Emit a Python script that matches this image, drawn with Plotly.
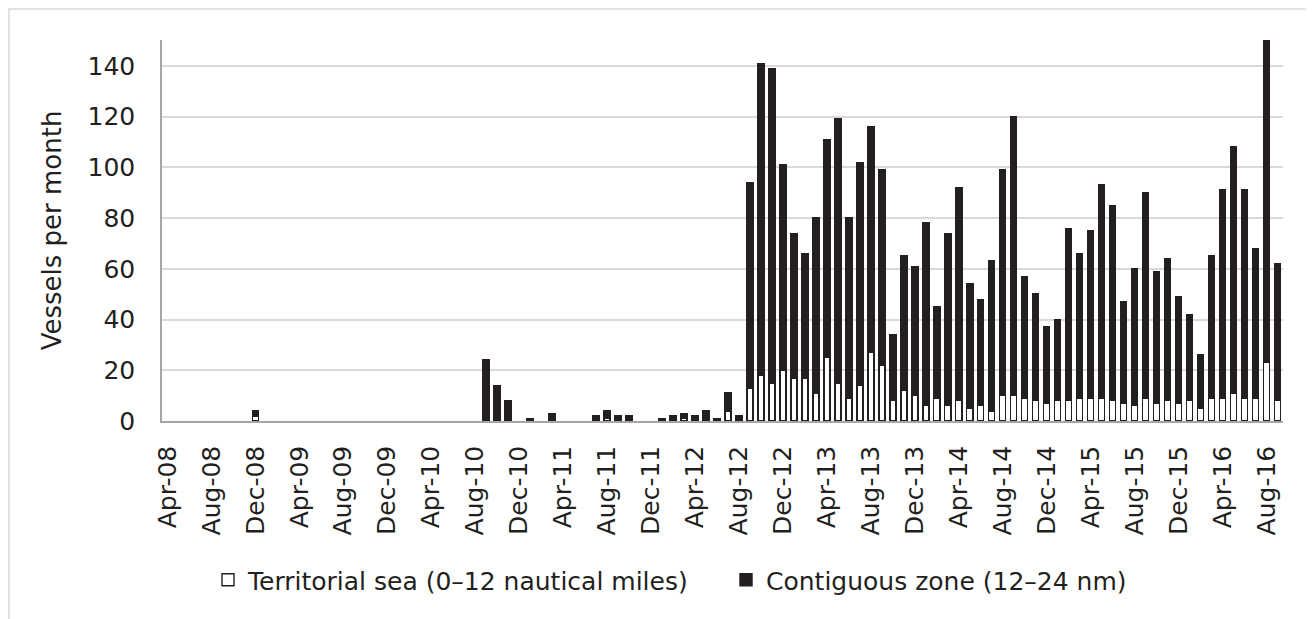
import plotly.graph_objects as go
import pandas as pd

# Monthly categories Apr-08 .. Sep-16
months = [d.strftime("%b-%y") for d in pd.date_range("2008-04-01", "2016-09-01", freq="MS")]

# Vessels per month, territorial sea (0-12 nm)
territorial = [
    0, 0, 0, 0, 0, 0, 0, 0, 2, 0,      # Apr-08 .. Jan-09
    0, 0, 0, 0, 0, 0, 0, 0, 0, 0,      # Feb-09 .. Nov-09
    0, 0, 0, 0, 0, 0, 0, 0, 0, 0,      # Dec-09 .. Sep-10
    0, 0, 0, 0, 0, 0, 0, 0, 0, 0,      # Oct-10 .. Jul-11
    1, 0, 0, 0, 0, 0, 0, 1, 0, 0,      # Aug-11 .. May-12
    0, 4, 0, 13, 18, 15, 20, 17, 17, 11,  # Jun-12 .. Mar-13
    25, 15, 9, 14, 27, 22, 8, 12, 10, 6,  # Apr-13 .. Jan-14
    9, 6, 8, 5, 6, 4, 10, 10, 9, 8,    # Feb-14 .. Nov-14
    7, 8, 8, 9, 9, 9, 8, 7, 6, 9,      # Dec-14 .. Sep-15
    7, 8, 7, 8, 5, 9, 9, 11, 9, 9,     # Oct-15 .. Jul-16
    23, 8,                             # Aug-16 .. Sep-16
]

# Vessels per month, contiguous zone (12-24 nm)
contiguous = [
    0, 0, 0, 0, 0, 0, 0, 0, 2, 0,
    0, 0, 0, 0, 0, 0, 0, 0, 0, 0,
    0, 0, 0, 0, 0, 0, 0, 0, 0, 24,
    14, 8, 0, 1, 0, 3, 0, 0, 0, 2,
    3, 2, 2, 0, 0, 1, 2, 2, 2, 4,
    1, 7, 2, 81, 123, 124, 81, 57, 49, 69,
    86, 104, 71, 88, 89, 77, 26, 53, 51, 72,
    36, 68, 84, 49, 42, 59, 89, 110, 48, 42,
    30, 32, 68, 57, 66, 84, 77, 40, 54, 81,
    52, 56, 42, 34, 21, 56, 82, 97, 82, 59,
    128, 54,
]

tick_labels = months[::4]
y_ticks = [0, 20, 40, 60, 80, 100, 120, 140]

ink = "#231f20"
font_family = "'DejaVu Sans', sans-serif"

def nz(vals):
    return [v if v else None for v in vals]

fig = go.Figure()
fig.add_trace(go.Bar(
    x=months, y=nz(territorial), name="Territorial sea (0\u201312 nautical miles)",
    marker=dict(color="white", line=dict(color=ink, width=1.4)),
))
fig.add_trace(go.Bar(
    x=months, y=nz(contiguous), name="Contiguous zone (12\u201324 nm)",
    marker=dict(color=ink, line=dict(color=ink, width=1.4)),
))

OFF = 8  # page body margin
W, H = 1314 - OFF, 619 - OFF
L, R, T, B = 162 - OFF, W - (1283 - OFF), 40 - OFF, H - (421 - OFF)
pw = W - L - R
ph = H - T - B

def px_x(p):
    return (p - OFF - L) / pw

def px_y(p):
    return (H - B - (p - OFF)) / ph

fig.update_layout(
    width=W, height=H,
    barmode="stack", bargap=0.45,
    plot_bgcolor="white", paper_bgcolor="white",
    margin=dict(l=L, r=R, t=T, b=B, autoexpand=False),
    font=dict(family=font_family, color=ink, size=24),
    showlegend=True,
    legend=dict(
        orientation="h", x=px_x(208), xanchor="left", y=px_y(580), yanchor="middle",
        font=dict(size=25, color=ink), traceorder="normal",
        entrywidth=473,
        bgcolor="rgba(0,0,0,0)",
    ),
    xaxis=dict(
        type="category", range=[-0.5, len(months) - 0.5],
        tickmode="array", tickvals=tick_labels, ticktext=tick_labels,
        tickangle=-90, tickfont=dict(size=25, color=ink),
        showgrid=False, showline=True, linecolor="#a6a6a6", linewidth=1.5,
        ticks="", zeroline=False, ticklabelstandoff=13,
    ),
    yaxis=dict(
        range=[0, 150.2], tickmode="array", tickvals=y_ticks,
        tickfont=dict(size=25, color=ink),
        showgrid=True, gridcolor="#d9d9d9", gridwidth=1.5,
        showline=True, linecolor="#a6a6a6", linewidth=1.5,
        zeroline=False, ticks="", ticklabelstandoff=20,
        title=dict(text="Vessels per month", font=dict(size=26, color=ink), standoff=18),
    ),
    shapes=[dict(
        type="rect", xref="paper", yref="paper",
        x0=px_x(9), x1=px_x(1340), y0=px_y(660), y1=px_y(9),
        line=dict(color="#d9d9d9", width=1.5), fillcolor="rgba(0,0,0,0)", layer="below",
    )],
)

fig.write_html("out.html")
